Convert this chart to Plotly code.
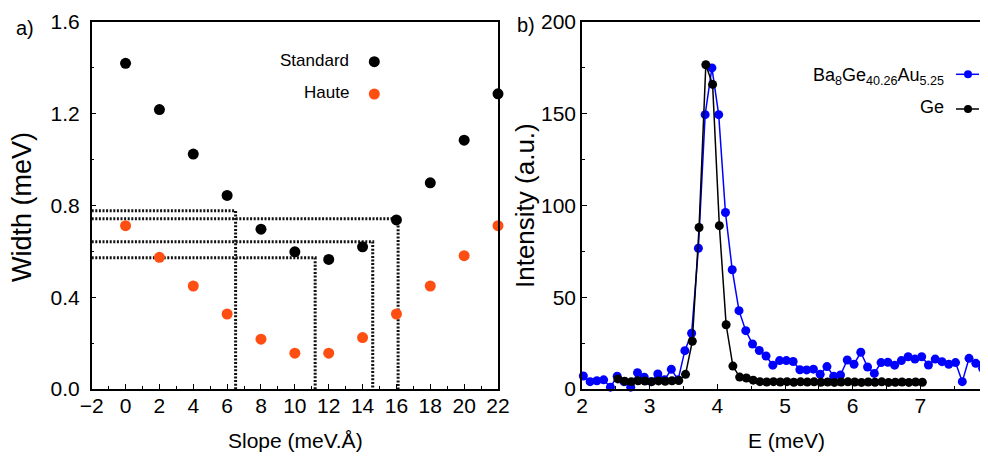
import plotly.graph_objects as go

# ---------------- data: panel a) ----------------
slope = [0, 2, 4, 6, 8, 10, 12, 14, 16, 18, 20, 22]
width_standard = [1.42, 1.218, 1.024, 0.844, 0.697, 0.598, 0.565, 0.620, 0.737, 0.899, 1.085, 1.287]
width_haute = [0.712, 0.574, 0.449, 0.327, 0.217, 0.156, 0.156, 0.224, 0.327, 0.449, 0.581, 0.712]
guide_x = [6.5, 16.1, 14.6, 11.2]
guide_y = [0.777, 0.742, 0.642, 0.572]
xticks_a = [-2, 0, 2, 4, 6, 8, 10, 12, 14, 16, 18, 20, 22]
yticks_a = [0.0, 0.4, 0.8, 1.2, 1.6]

# ---------------- data: panel b) ----------------
E_ba = [2.02, 2.12, 2.22, 2.32, 2.42, 2.52, 2.62, 2.72, 2.82, 2.92,
        3.02, 3.12, 3.22, 3.32, 3.42, 3.52, 3.62, 3.72, 3.82, 3.92,
        4.02, 4.12, 4.22, 4.32, 4.42, 4.52, 4.62, 4.72, 4.82, 4.92,
        5.02, 5.12, 5.22, 5.32, 5.42, 5.52, 5.62, 5.72, 5.82, 5.92,
        6.02, 6.12, 6.22, 6.32, 6.42, 6.52, 6.62, 6.72, 6.82, 6.92,
        7.02, 7.12, 7.22, 7.32, 7.42, 7.52, 7.62, 7.72, 7.82, 7.92]
I_ba = [7.1, 4.0, 4.5, 5.0, 1.0, 7.0, 4.0, 1.0, 8.9, 6.4,
        4.0, 8.2, 5.0, 10.7, 5.0, 20.9, 30.4, 76.7, 149.5, 175.0,
        149.5, 96.2, 65.0, 42.7, 31.8, 24.5, 21.0, 18.0, 13.0, 15.5,
        15.5, 15.0, 10.5, 10.4, 10.8, 8.0, 12.2, 7.0, 7.6, 15.8,
        13.5, 20.0, 12.0, 8.5, 14.4, 14.6, 13.0, 15.5, 17.6, 16.3,
        17.6, 13.1, 16.3, 14.9, 13.5, 14.4, 4.0, 16.7, 14.0, 11.3]
E_ge = [2.53, 2.63, 2.73, 2.83, 2.93, 3.03, 3.13, 3.23, 3.33, 3.43,
        3.53, 3.63, 3.73, 3.83, 3.93, 4.03, 4.13, 4.23, 4.33, 4.43,
        4.53, 4.63, 4.73, 4.83, 4.93, 5.03, 5.13, 5.23, 5.33, 5.43,
        5.53, 5.63, 5.73, 5.83, 5.93, 6.03, 6.13, 6.23, 6.33, 6.43,
        6.53, 6.63, 6.73, 6.83, 6.93, 7.03]
I_ge = [5.5, 4.2, 4.0, 4.5, 4.3, 4.0, 4.4, 4.2, 4.5, 4.6,
        8.0, 26.0, 88.0, 176.7, 166.0, 89.0, 35.0, 12.5, 6.5, 6.0,
        4.8, 4.0, 3.8, 4.0, 3.8, 4.0, 3.7, 3.9, 3.8, 3.9,
        3.7, 3.8, 3.6, 3.8, 3.9, 3.8, 3.6, 3.8, 3.7, 3.9,
        3.6, 3.7, 3.8, 3.6, 3.8, 3.7]
xticks_b = [2, 3, 4, 5, 6, 7, 8]
yticks_b = [0, 50, 100, 150, 200]

# page body has an 8px margin: figure is drawn from (8, 8)
OFF = 8
W, H = 988 - OFF, 456 - OFF
FONT = "Liberation Sans, Arial, sans-serif"
ORANGE = "#ff4e12"
BLUE = "#0000ff"


def px(x):
    return (x - OFF) / W


def py(y):
    return 1 - (y - OFF) / H


fig = go.Figure()

# guide dotted lines (drawn below markers)
for gx, gy in zip(guide_x, guide_y):
    fig.add_trace(go.Scatter(
        x=[-2, gx, gx], y=[gy, gy, 0], mode="lines",
        line=dict(color="#111111", width=3, dash="2px,1.6px"),
        xaxis="x", yaxis="y", showlegend=False, hoverinfo="skip",
        cliponaxis=True))

fig.add_trace(go.Scatter(x=slope, y=width_standard, mode="markers",
                         marker=dict(color="black", size=11), name="Standard",
                         xaxis="x", yaxis="y", showlegend=False, cliponaxis=False))
fig.add_trace(go.Scatter(x=slope, y=width_haute, mode="markers",
                         marker=dict(color=ORANGE, size=11), name="Haute",
                         xaxis="x", yaxis="y", showlegend=False, cliponaxis=False))

fig.add_trace(go.Scatter(x=E_ba, y=I_ba, mode="lines+markers",
                         line=dict(color=BLUE, width=1.5),
                         marker=dict(color=BLUE, size=9),
                         xaxis="x2", yaxis="y2", showlegend=False, cliponaxis=False))
fig.add_trace(go.Scatter(x=E_ge, y=I_ge, mode="lines+markers",
                         line=dict(color="black", width=1.5),
                         marker=dict(color="black", size=9),
                         xaxis="x2", yaxis="y2", showlegend=False, cliponaxis=False))

axis_common = dict(showgrid=False, zeroline=False, showline=True, linecolor="black",
                   linewidth=1.5, ticks="inside", tickcolor="black", tickwidth=1,
                   ticklen=5, automargin=False, ticklabeloverflow="allow",
                   tickfont=dict(family=FONT, size=21, color="black"))

fig.update_layout(
    width=W, height=H, template="none",
    margin=dict(l=0, r=0, t=0, b=0),
    paper_bgcolor="white", plot_bgcolor="white", showlegend=False,
    xaxis=dict(domain=[px(91.7), px(498)], range=[-2, 22], tickvals=xticks_a,
               minor=dict(ticks="inside", dtick=1, ticklen=3, tickcolor="black"),
               mirror=True, anchor="y", ticklabelstandoff=-3, **axis_common),
    yaxis=dict(domain=[py(389), py(22)], range=[0, 1.6], tickvals=yticks_a,
               tickformat=".1f",
               minor=dict(ticks="inside", dtick=0.2, ticklen=3, tickcolor="black"),
               mirror=True, anchor="x", ticklabelstandoff=6, **axis_common),
    xaxis2=dict(domain=[px(582), 1.0], range=[2, 8], tickvals=xticks_b,
                minor=dict(ticks="inside", dtick=0.5, ticklen=3, tickcolor="black"),
                mirror=True, anchor="y2", ticklabelstandoff=-3, **axis_common),
    yaxis2=dict(domain=[py(389), py(22)], range=[0, 200], tickvals=yticks_b,
                minor=dict(ticks="inside", dtick=25, ticklen=3, tickcolor="black"),
                mirror=False, anchor="x2", ticklabelstandoff=0, **axis_common),
)

ann = []


def text(x, y, s, size, xanchor="center", angle=0):
    ann.append(dict(x=px(x), y=py(y), xref="paper", yref="paper", text=s,
                    showarrow=False, xanchor=xanchor, yanchor="middle",
                    textangle=angle, font=dict(family=FONT, size=size, color="black")))


text(295, 440, "Slope (meV.Å)", 21)
text(786, 440, "E (meV)", 21)
text(22, 207, "Width (meV)", 27, angle=-90)
text(525, 206, "Intensity (a.u.)", 26, angle=-90)
text(25, 28, "a)", 20)
text(526, 25, "b)", 20)
text(351, 61, "Standard", 17, xanchor="right")
text(351, 93, "Haute", 17, xanchor="right")
text(946, 76, "Ba<sub>8</sub>Ge<sub>40.26</sub>Au<sub>5.25</sub>", 18, xanchor="right")
text(946, 107, "Ge", 18, xanchor="right")
fig.update_layout(annotations=ann)

shapes = []


def dot(cx, cy, d, color):
    shapes.append(dict(type="circle", xref="paper", yref="paper",
                       x0=px(cx - d / 2), x1=px(cx + d / 2),
                       y0=py(cy + d / 2), y1=py(cy - d / 2),
                       fillcolor=color, line=dict(width=0)))


def seg(x0, x1, y, color):
    shapes.append(dict(type="line", xref="paper", yref="paper",
                       x0=px(x0), x1=px(x1), y0=py(y), y1=py(y),
                       line=dict(color=color, width=1.5)))


dot(374.3, 61.7, 11, "black")
dot(374.3, 94, 11, ORANGE)
seg(956, 979, 74.3, BLUE)
dot(968, 74.3, 8, BLUE)
seg(956, 979, 109, "black")
dot(968, 109, 8, "black")
fig.update_layout(shapes=shapes)

fig.write_html("out.html")
